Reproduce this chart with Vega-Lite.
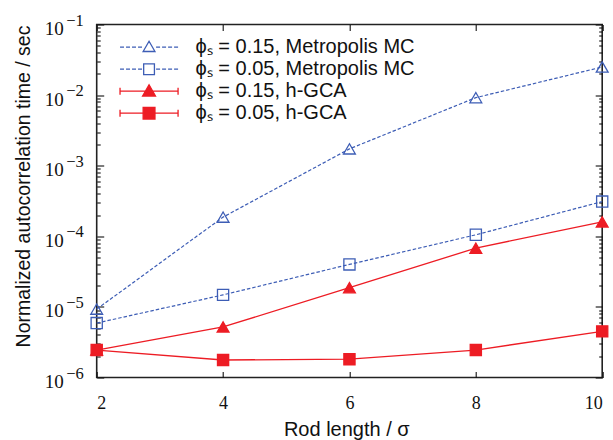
{
  "$schema": "https://vega.github.io/schema/vega-lite/v6.json",
  "width": 505.5,
  "height": 353,
  "autosize": "none",
  "padding": {"left": 96.7, "top": 24.5, "right": 10.8, "bottom": 62.5},
  "background": "white",
  "config": {
    "view": {"stroke": "#222", "strokeWidth": 1.6},
    "axis": {"grid": false, "domain": false, "tickColor": "#111", "tickWidth": 1.1, "labelColor": "#111", "titleColor": "#111", "titleFontWeight": "normal"},
    "legend": {"labelLimit": 500}
  },
  "data": {
    "values": [
      {"series": "ϕₛ = 0.15, Metropolis MC", "L": 2, "tau": 9.3e-6},
      {"series": "ϕₛ = 0.15, Metropolis MC", "L": 4, "tau": 1.87e-4},
      {"series": "ϕₛ = 0.15, Metropolis MC", "L": 6, "tau": 1.73e-3},
      {"series": "ϕₛ = 0.15, Metropolis MC", "L": 8, "tau": 9.2e-3},
      {"series": "ϕₛ = 0.15, Metropolis MC", "L": 10, "tau": 2.5e-2},
      {"series": "ϕₛ = 0.05, Metropolis MC", "L": 2, "tau": 5.9e-6},
      {"series": "ϕₛ = 0.05, Metropolis MC", "L": 4, "tau": 1.48e-5},
      {"series": "ϕₛ = 0.05, Metropolis MC", "L": 6, "tau": 4.0e-5},
      {"series": "ϕₛ = 0.05, Metropolis MC", "L": 8, "tau": 1.05e-4},
      {"series": "ϕₛ = 0.05, Metropolis MC", "L": 10, "tau": 3.1e-4},
      {"series": "ϕₛ = 0.15, h-GCA", "L": 2, "tau": 2.45e-6},
      {"series": "ϕₛ = 0.15, h-GCA", "L": 4, "tau": 5.2e-6},
      {"series": "ϕₛ = 0.15, h-GCA", "L": 6, "tau": 1.87e-5},
      {"series": "ϕₛ = 0.15, h-GCA", "L": 8, "tau": 6.8e-5},
      {"series": "ϕₛ = 0.15, h-GCA", "L": 10, "tau": 1.6e-4},
      {"series": "ϕₛ = 0.05, h-GCA", "L": 2, "tau": 2.45e-6},
      {"series": "ϕₛ = 0.05, h-GCA", "L": 4, "tau": 1.77e-6},
      {"series": "ϕₛ = 0.05, h-GCA", "L": 6, "tau": 1.82e-6},
      {"series": "ϕₛ = 0.05, h-GCA", "L": 8, "tau": 2.45e-6},
      {"series": "ϕₛ = 0.05, h-GCA", "L": 10, "tau": 4.5e-6}
    ]
  },
  "resolve": {"axis": {"x": "independent", "y": "independent"}},
  "layer": [
    {
      "transform": [{"filter": "indexof(datum.series, 'Metropolis') >= 0"}],
      "mark": {"type": "line", "strokeWidth": 1.2, "color": "#3d5db5", "strokeDash": [3.5, 2]},
      "encoding": {
        "x": {"field": "L", "type": "quantitative", "scale": {"domain": [2, 10], "nice": false, "zero": false},
          "axis": {"orient": "bottom", "offset": -6, "values": [2, 4, 6, 8, 10], "tickSize": 6, "labelPadding": 16.5, "labelFont": "Liberation Serif, DejaVu Serif", "labelFontSize": 18,
            "title": "Rod length / σ", "titleFont": "Liberation Sans", "titleFontSize": 20, "titleBaseline": "alphabetic", "titleAlign": "center", "titleX": 249.6, "titleY": 63.5}},
        "y": {"field": "tau", "type": "quantitative", "scale": {"type": "log", "domain": [1e-6, 0.1], "nice": false},
          "axis": {"orient": "left",
            "values": [1e-6, 2e-6, 3e-6, 4e-6, 5e-6, 6e-6, 7e-6, 8e-6, 9e-6, 1e-5, 2e-5, 3e-5, 4e-5, 5e-5, 6e-5, 7e-5, 8e-5, 9e-5, 1e-4, 2e-4, 3e-4, 4e-4, 5e-4, 6e-4, 7e-4, 8e-4, 9e-4, 1e-3, 2e-3, 3e-3, 4e-3, 5e-3, 6e-3, 7e-3, 8e-3, 9e-3, 1e-2, 2e-2, 3e-2, 4e-2, 5e-2, 6e-2, 7e-2, 8e-2, 9e-2, 0.1],
            "tickSize": {"condition": {"test": "abs(log(datum.value)/LN10 - round(log(datum.value)/LN10)) < 0.001", "value": -7}, "value": -3.5},
            "labelExpr": "abs(log(datum.value)/LN10 - round(log(datum.value)/LN10)) < 0.001 ? '10' : ''",
            "labelPadding": 40.5, "labelOffset": 3.9, "labelFont": "Liberation Serif, DejaVu Serif", "labelFontSize": 19, "labelBaseline": "middle",
            "title": "Normalized autocorrelation time / sec", "titleFont": "Liberation Sans", "titleFontSize": 19.5, "titleAngle": 270, "titleBaseline": "alphabetic", "titleAlign": "center", "titleX": -67.4, "titleY": 161.5}},
        "detail": {"field": "series", "type": "nominal"}
      }
    },
    {
      "transform": [{"filter": "indexof(datum.series, 'h-GCA') >= 0"}],
      "mark": {"type": "line", "strokeWidth": 1.3, "color": "#ed1c24"},
      "encoding": {
        "x": {"field": "L", "type": "quantitative", "axis": null},
        "y": {"field": "tau", "type": "quantitative",
          "axis": {"orient": "left", "ticks": false, "title": null,
            "values": [1e-6, 1e-5, 1e-4, 1e-3, 1e-2, 0.1],
            "labelExpr": "'−' + format(round(-log(datum.value)/LN10), 'd')",
            "labelPadding": 13.4, "labelOffset": -4.4, "labelFont": "Liberation Serif, DejaVu Serif", "labelFontSize": 16.5, "labelBaseline": "middle"}},
        "detail": {"field": "series", "type": "nominal"}
      }
    },
    {
      "transform": [{"filter": "indexof(datum.series, '0.15') >= 0"}],
      "mark": {"type": "point", "shape": "triangle-up", "filled": true, "opacity": 1, "size": 140, "strokeWidth": 1.3},
      "encoding": {
        "x": {"field": "L", "type": "quantitative", "axis": {"orient": "top", "values": [2, 4, 6, 8, 10], "tickSize": -6, "labels": false, "title": null}},
        "y": {"field": "tau", "type": "quantitative",
          "axis": {"orient": "right", "labels": false, "title": null,
            "values": [1e-6, 2e-6, 3e-6, 4e-6, 5e-6, 6e-6, 7e-6, 8e-6, 9e-6, 1e-5, 2e-5, 3e-5, 4e-5, 5e-5, 6e-5, 7e-5, 8e-5, 9e-5, 1e-4, 2e-4, 3e-4, 4e-4, 5e-4, 6e-4, 7e-4, 8e-4, 9e-4, 1e-3, 2e-3, 3e-3, 4e-3, 5e-3, 6e-3, 7e-3, 8e-3, 9e-3, 1e-2, 2e-2, 3e-2, 4e-2, 5e-2, 6e-2, 7e-2, 8e-2, 9e-2, 0.1],
            "tickSize": {"condition": {"test": "abs(log(datum.value)/LN10 - round(log(datum.value)/LN10)) < 0.001", "value": -7}, "value": -3.5}}},
        "fill": {"field": "series", "type": "nominal",
          "scale": {"domain": ["ϕₛ = 0.15, Metropolis MC", "ϕₛ = 0.05, Metropolis MC", "ϕₛ = 0.15, h-GCA", "ϕₛ = 0.05, h-GCA"], "range": ["transparent", "transparent", "#ed1c24", "#ed1c24"]},
          "legend": {"orient": "none", "legendX": 40.85, "legendY": 11.2, "padding": 0, "title": null, "rowPadding": -1.7, "labelOffset": 35, "labelFont": "Liberation Sans", "labelFontSize": 20, "labelColor": "#111", "labelLimit": 500, "symbolSize": 462, "symbolStrokeWidth": 1.3}},
        "stroke": {"field": "series", "type": "nominal",
          "scale": {"domain": ["ϕₛ = 0.15, Metropolis MC", "ϕₛ = 0.05, Metropolis MC", "ϕₛ = 0.15, h-GCA", "ϕₛ = 0.05, h-GCA"], "range": ["#3d5db5", "#3d5db5", "#ed1c24", "#ed1c24"]},
          "legend": {"orient": "none", "legendX": 40.85, "legendY": 11.2, "padding": 0, "title": null, "rowPadding": -1.7, "labelOffset": 35, "labelFont": "Liberation Sans", "labelFontSize": 20, "labelColor": "#111", "labelLimit": 500, "symbolSize": 462, "symbolStrokeWidth": 1.3}}
      }
    },
    {
      "transform": [{"filter": "indexof(datum.series, '0.05') >= 0"}],
      "mark": {"type": "point", "shape": "square", "filled": true, "opacity": 1, "size": 125, "strokeWidth": 1.3},
      "encoding": {
        "x": {"field": "L", "type": "quantitative", "axis": null},
        "y": {"field": "tau", "type": "quantitative", "axis": null},
        "fill": {"field": "series", "type": "nominal"},
        "stroke": {"field": "series", "type": "nominal"}
      }
    },
    {
      "transform": [{"filter": "false"}],
      "mark": {"type": "point", "filled": true, "opacity": 1, "size": 462, "strokeWidth": 1.3},
      "encoding": {
        "x": {"field": "L", "type": "quantitative", "axis": null},
        "y": {"field": "tau", "type": "quantitative", "axis": null},
        "fill": {"field": "series", "type": "nominal"},
        "stroke": {"field": "series", "type": "nominal"},
        "shape": {"field": "series", "type": "nominal",
          "scale": {"domain": ["ϕₛ = 0.15, Metropolis MC", "ϕₛ = 0.05, Metropolis MC", "ϕₛ = 0.15, h-GCA", "ϕₛ = 0.05, h-GCA"],
            "range": [
              "M-2.7,0H-2.328M-2.142,0H-1.77M-1.584,0H-1.212M-1.026,0H-0.654M0.654,0H1.026M1.212,0H1.584M1.77,0H2.142M2.328,0H2.7M0,-0.55L0.55,0.4L-0.55,0.4Z",
              "M-2.7,0H-2.328M-2.142,0H-1.77M-1.584,0H-1.212M-1.026,0H-0.654M0.654,0H1.026M1.212,0H1.584M1.77,0H2.142M2.328,0H2.7M-0.5,-0.5H0.5V0.5H-0.5Z",
              "M-2.7,0H2.7M-2.7,-0.33V0.33M2.7,-0.33V0.33M0,-0.6L0.6,0.45L-0.6,0.45Z",
              "M-2.7,0H2.7M-2.7,-0.33V0.33M2.7,-0.33V0.33M-0.55,-0.55H0.55V0.55H-0.55Z"
            ]},
          "legend": {"orient": "none", "legendX": 40.85, "legendY": 11.2, "padding": 0, "title": null, "rowPadding": -1.7, "labelOffset": 35, "labelFont": "Liberation Sans", "labelFontSize": 20, "labelColor": "#111", "labelLimit": 500, "symbolSize": 462, "symbolStrokeWidth": 1.3}}
      }
    }
  ]
}
